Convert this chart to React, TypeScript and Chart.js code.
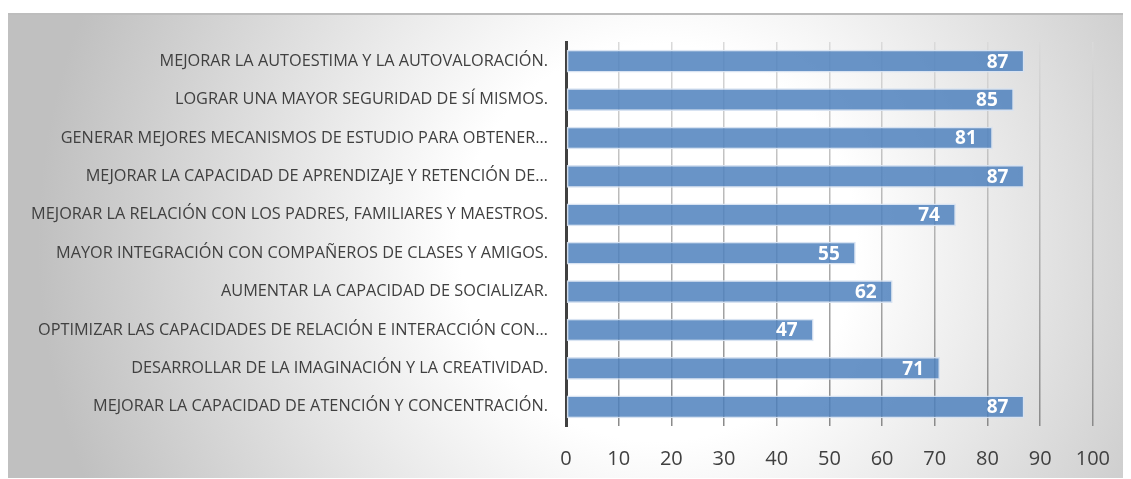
import React, { useEffect, useRef } from "react";
import { Chart, registerables } from "chart.js";

Chart.register(...registerables);

const categories: string[] = [
  "MEJORAR LA AUTOESTIMA Y LA AUTOVALORACIÓN.",
  "LOGRAR UNA MAYOR SEGURIDAD DE SÍ MISMOS.",
  "GENERAR MEJORES MECANISMOS DE ESTUDIO PARA OBTENER…",
  "MEJORAR LA CAPACIDAD DE APRENDIZAJE Y RETENCIÓN DE…",
  "MEJORAR LA RELACIÓN CON LOS PADRES, FAMILIARES Y MAESTROS.",
  "MAYOR INTEGRACIÓN CON COMPAÑEROS DE CLASES Y AMIGOS.",
  "AUMENTAR LA CAPACIDAD DE SOCIALIZAR.",
  "OPTIMIZAR LAS CAPACIDADES DE RELACIÓN E INTERACCIÓN CON…",
  "DESARROLLAR DE LA IMAGINACIÓN Y LA CREATIVIDAD.",
  "MEJORAR LA CAPACIDAD DE ATENCIÓN Y CONCENTRACIÓN.",
];

const values: number[] = [87, 85, 81, 87, 74, 55, 62, 47, 71, 87];

const xMin = 0;
const xMax = 100;
const xStep = 10;

const backgroundPlugin = {
  id: "panelBackground",
  beforeDraw(chart: any) {
    const { ctx, width, height } = chart;
    ctx.save();
    const cx = 650;
    const cy = 235;
    const g = ctx.createRadialGradient(cx, cy, 0, cx, cy, 620);
    g.addColorStop(0, "#ffffff");
    g.addColorStop(0.32, "#ffffff");
    g.addColorStop(1, "#c0c0c0");
    ctx.fillStyle = g;
    ctx.fillRect(0, 5, width, height - 5);
    ctx.strokeStyle = "#bdbdbd";
    ctx.lineWidth = 2;
    ctx.beginPath();
    ctx.moveTo(0, 6);
    ctx.lineTo(width, 6);
    ctx.stroke();
    ctx.restore();
  },
};

const labelPlugin = {
  id: "barValueLabels",
  afterDatasetsDraw(chart: any) {
    const { ctx } = chart;
    const meta = chart.getDatasetMeta(0);
    ctx.save();
    ctx.fillStyle = "#ffffff";
    ctx.font = "bold 19px 'Open Sans', sans-serif";
    ctx.textAlign = "right";
    ctx.textBaseline = "middle";
    meta.data.forEach((bar: any, i: number) => {
      const v = chart.data.datasets[0].data[i];
      ctx.fillText(String(v), bar.x - 16, bar.y + 1);
    });
    ctx.restore();
  },
};

export default function App() {
  const ref = useRef<HTMLCanvasElement | null>(null);

  useEffect(() => {
    if (!ref.current) return;
    const chart = new Chart(ref.current, {
      type: "bar",
      data: {
        labels: categories,
        datasets: [
          {
            data: values,
            backgroundColor: "rgba(79,129,189,0.85)",
            borderColor: "rgba(214,226,241,0.95)",
            borderWidth: 1.5,
            borderSkipped: false,
            barPercentage: 0.59,
            categoryPercentage: 1,
          },
        ],
      },
      options: {
        indexAxis: "y",
        animation: false,
        responsive: true,
        maintainAspectRatio: false,
        layout: { padding: { top: 34, right: 36, bottom: 0, left: 0 } },
        plugins: {
          legend: { display: false },
          tooltip: { enabled: false },
          title: { display: false },
        },
        scales: {
          x: {
            min: xMin,
            max: xMax,
            ticks: {
              stepSize: xStep,
              color: "#404040",
              font: { family: "'Open Sans', sans-serif", size: 20 },
              padding: 21,
            },
            grid: {
              drawTicks: false,
              lineWidth: 1.5,
              color: (c: any) => {
                const area = c.chart.chartArea;
                if (!area) return "#bfbfbf";
                const g = c.chart.ctx.createLinearGradient(0, area.top, 0, area.bottom);
                g.addColorStop(0, "#dadada");
                g.addColorStop(1, "#8a8a8a");
                return g;
              },
            },
            border: { display: false },
            afterFit(scale: any) {
              scale.height = 52;
            },
          },
          y: {
            ticks: {
              color: "#404040",
              font: { family: "'Open Sans', sans-serif", size: 16.3 },
              padding: 18,
              autoSkip: false,
            },
            grid: { display: false, drawTicks: false },
            border: { display: true, color: "#404040", width: 3 },
            afterFit(scale: any) {
              scale.width = 558;
            },
          },
        },
      },
      plugins: [backgroundPlugin, labelPlugin],
    });
    return () => chart.destroy();
  }, []);

  return (
    <div style={{ position: "relative", width: 1123, height: 470 }}>
      <canvas ref={ref} />
    </div>
  );
}
